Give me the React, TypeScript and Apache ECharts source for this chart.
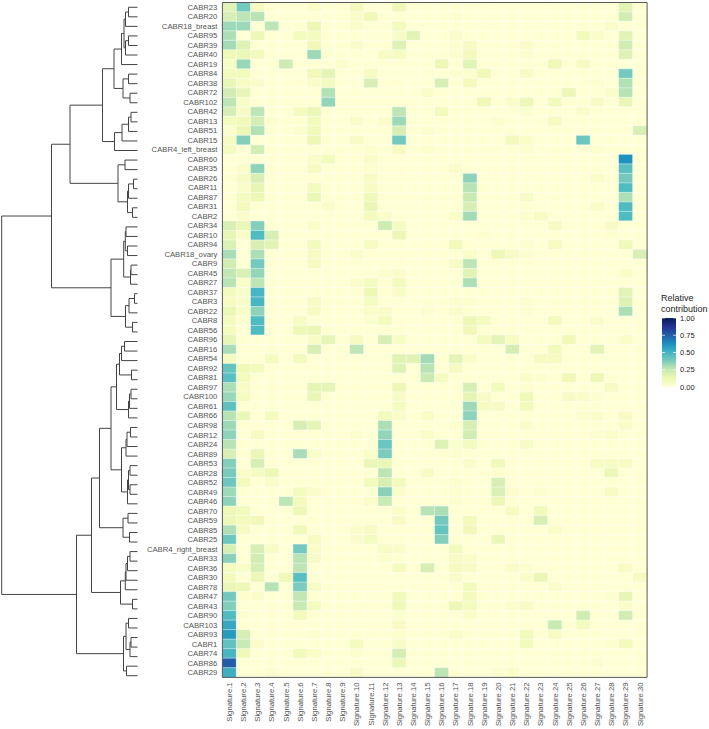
import React, { useEffect, useRef } from "react";
import * as echarts from "echarts";

type Cell = [number, number];

const samples = ["CABR23","CABR20","CABR18_breast","CABR95","CABR39","CABR40","CABR19","CABR84","CABR38","CABR72","CABR102","CABR42","CABR13","CABR51","CABR15","CABR4_left_breast","CABR60","CABR35","CABR26","CABR11","CABR87","CABR31","CABR2","CABR34","CABR10","CABR94","CABR18_ovary","CABR9","CABR45","CABR27","CABR37","CABR3","CABR22","CABR8","CABR56","CABR96","CABR16","CABR54","CABR92","CABR81","CABR97","CABR100","CABR61","CABR66","CABR98","CABR12","CABR24","CABR89","CABR53","CABR28","CABR52","CABR49","CABR46","CABR70","CABR59","CABR85","CABR25","CABR4_right_breast","CABR33","CABR36","CABR30","CABR78","CABR47","CABR43","CABR90","CABR103","CABR93","CABR1","CABR74","CABR86","CABR29"];
const signatures = Array.from({ length: 30 }, (_, i) => `Signature.${i + 1}`);
const palette = ["#FFFFD4","#EFF9B6","#C7E9B4","#86D0BA","#50BCC2","#1D91C0","#225EA8","#253494","#081D58"];
const legendPalette = ["#FFFFD9","#EDF8B1","#C7E9B4","#7FCDBB","#41B6C4","#1D91C0","#225EA8","#253494","#081D58"];
const legendTicks = [0, 0.25, 0.5, 0.75, 1];

// Each row: sparse [signature number, relative contribution]; every other cell is ~0.
const r1: Cell[] = [[1,.17],[2,.42],[3,.08],[7,.05],[10,.1],[13,.12],[29,.17]];
const r2: Cell[] = [[1,.2],[2,.27],[3,.28],[10,.05],[11,.12],[17,.02],[29,.22]];
const r3: Cell[] = [[1,.33],[2,.33],[4,.27],[7,.13],[10,.04],[13,.1],[28,.04]];
const r4: Cell[] = [[1,.3],[3,.13],[6,.09],[7,.09],[13,.06],[14,.17],[17,.04],[26,.1],[27,.05],[29,.17]];
const r5: Cell[] = [[1,.32],[2,.18],[7,.12],[10,.04],[13,.18],[17,.02],[18,.07],[22,.04],[29,.22]];
const r6: Cell[] = [[1,.12],[2,.14],[3,.1],[7,.33],[12,.07],[13,.08],[17,.02],[18,.1],[22,.02],[29,.18]];
const r7: Cell[] = [[1,.07],[2,.34],[5,.23],[9,.03],[16,.13],[18,.17],[24,.12],[26,.08]];
const r8: Cell[] = [[1,.1],[2,.1],[7,.11],[8,.16],[11,.08],[17,.02],[18,.03],[19,.12],[22,.06],[29,.42]];
const r9: Cell[] = [[1,.14],[2,.07],[3,.04],[7,.04],[8,.09],[11,.2],[16,.2],[18,.1],[27,.02],[29,.29]];
const r10: Cell[] = [[1,.22],[2,.15],[8,.29],[15,.05],[25,.13],[28,.04],[29,.28]];
const r11: Cell[] = [[1,.27],[2,.06],[8,.35],[19,.12],[21,.04],[22,.13],[24,.1],[27,.06],[29,.14]];
const r12: Cell[] = [[1,.21],[2,.06],[3,.27],[6,.09],[7,.14],[13,.27],[16,.1],[22,.03],[26,.04]];
const r13: Cell[] = [[1,.09],[2,.11],[3,.21],[4,.03],[7,.1],[10,.05],[12,.04],[13,.33],[20,.03],[24,.08]];
const r14: Cell[] = [[1,.03],[2,.13],[3,.29],[6,.03],[7,.11],[13,.2],[15,.02],[30,.2]];
const r15: Cell[] = [[1,.08],[2,.38],[7,.13],[10,.07],[13,.42],[21,.1],[22,.05],[26,.44]];
const r16: Cell[] = [[1,.09],[3,.22],[11,.03],[13,.08],[15,.03],[22,.02],[27,.03]];
const r17: Cell[] = [[7,.05],[8,.1],[11,.04],[29,.62]];
const r18: Cell[] = [[2,.04],[3,.36],[7,.08],[11,.03],[17,.04],[29,.48]];
const r19: Cell[] = [[2,.06],[3,.2],[11,.07],[18,.36],[27,.05],[29,.42]];
const r20: Cell[] = [[2,.05],[3,.15],[7,.09],[11,.07],[18,.28],[29,.5]];
const r21: Cell[] = [[2,.09],[3,.13],[7,.14],[11,.12],[18,.24],[22,.06],[29,.3]];
const r22: Cell[] = [[2,.1],[8,.04],[11,.14],[18,.2],[27,.05],[29,.5]];
const r23: Cell[] = [[2,.04],[11,.09],[12,.04],[17,.05],[18,.32],[22,.03],[23,.07],[29,.5]];
const r24: Cell[] = [[1,.2],[2,.14],[3,.38],[7,.05],[12,.23],[13,.08],[24,.07],[28,.06]];
const r25: Cell[] = [[1,.15],[2,.05],[3,.5],[4,.2],[13,.13],[19,.03],[28,.02]];
const r26: Cell[] = [[1,.19],[3,.2],[4,.17],[7,.1],[11,.08],[17,.11],[22,.03],[24,.08],[29,.12]];
const r27: Cell[] = [[1,.31],[3,.3],[7,.08],[10,.04],[18,.05],[20,.13],[21,.06],[22,.02],[30,.2]];
const r28: Cell[] = [[1,.22],[3,.42],[7,.08],[17,.07],[18,.27],[27,.01]];
const r29: Cell[] = [[1,.26],[2,.19],[3,.35],[12,.03],[13,.04],[18,.17],[29,.05]];
const r30: Cell[] = [[1,.28],[2,.05],[3,.27],[10,.04],[11,.09],[13,.1],[18,.3]];
const r31: Cell[] = [[1,.1],[2,.05],[3,.52],[11,.13],[13,.07],[29,.17]];
const r32: Cell[] = [[1,.08],[2,.05],[3,.52],[7,.06],[11,.08],[17,.03],[18,.03],[22,.02],[29,.18]];
const r33: Cell[] = [[1,.14],[2,.05],[3,.36],[7,.07],[11,.05],[12,.04],[15,.02],[17,.05],[18,.01],[22,.02],[29,.3]];
const r34: Cell[] = [[1,.09],[2,.02],[3,.5],[6,.07],[11,.03],[12,.09],[18,.13],[19,.09],[24,.1],[27,.04]];
const r35: Cell[] = [[1,.09],[3,.5],[6,.13],[7,.14],[18,.12]];
const r36: Cell[] = [[1,.15],[7,.06],[8,.15],[10,.08],[12,.2],[13,.07],[19,.09],[20,.16],[21,.07],[25,.12],[29,.05]];
const r37: Cell[] = [[1,.31],[7,.2],[10,.27],[21,.21],[24,.1],[27,.17]];
const r38: Cell[] = [[1,.08],[4,.09],[6,.1],[13,.17],[14,.17],[15,.32],[17,.16],[18,.05],[23,.08],[24,.08]];
const r39: Cell[] = [[1,.45],[2,.12],[3,.1],[13,.18],[15,.28],[17,.08]];
const r40: Cell[] = [[1,.48],[2,.1],[15,.24],[16,.08],[22,.05],[23,.03],[25,.12],[27,.13]];
const r41: Cell[] = [[1,.3],[2,.07],[7,.16],[8,.16],[13,.13],[18,.2],[20,.1],[22,.03],[28,.08]];
const r42: Cell[] = [[1,.34],[2,.09],[7,.14],[13,.06],[18,.16],[19,.06],[22,.12],[25,.06],[26,.05],[27,.02]];
const r43: Cell[] = [[1,.47],[13,.09],[18,.33],[19,.08],[20,.06],[22,.1]];
const r44: Cell[] = [[1,.28],[2,.14],[4,.09],[12,.1],[13,.04],[15,.05],[18,.36],[26,.03],[27,.04],[29,.06]];
const r45: Cell[] = [[1,.33],[6,.2],[7,.16],[12,.3],[17,.03],[18,.2],[22,.04],[29,.05]];
const r46: Cell[] = [[1,.36],[3,.08],[10,.03],[12,.35],[15,.05],[18,.22],[25,.01],[26,.01],[27,.02],[28,.05]];
const r47: Cell[] = [[1,.28],[12,.44],[16,.18],[17,.03],[18,.09],[22,.06]];
const r48: Cell[] = [[1,.2],[3,.14],[6,.31],[7,.05],[11,.05],[12,.4],[17,.03]];
const r49: Cell[] = [[1,.38],[3,.2],[11,.14],[12,.14],[18,.05],[20,.11],[27,.07],[28,.07],[29,.07]];
const r50: Cell[] = [[1,.41],[2,.04],[3,.08],[4,.13],[12,.27],[15,.07],[20,.02],[28,.13]];
const r51: Cell[] = [[1,.43],[2,.1],[4,.04],[11,.1],[12,.2],[13,.1],[17,.03],[18,.01],[20,.2]];
const r52: Cell[] = [[1,.33],[6,.09],[7,.05],[12,.37],[13,.05],[17,.02],[20,.19],[21,.04],[23,.03],[28,.07]];
const r53: Cell[] = [[1,.36],[5,.27],[6,.1],[11,.04],[12,.24],[17,.03],[20,.13]];
const r54: Cell[] = [[1,.13],[2,.1],[6,.13],[13,.05],[15,.28],[16,.3],[21,.08],[23,.11]];
const r55: Cell[] = [[1,.13],[2,.1],[3,.12],[13,.06],[16,.42],[18,.1],[23,.2]];
const r56: Cell[] = [[1,.3],[2,.08],[6,.12],[10,.04],[11,.06],[16,.45],[18,.12],[24,.05]];
const r57: Cell[] = [[1,.44],[7,.08],[10,.04],[11,.09],[16,.38],[20,.14]];
const r58: Cell[] = [[1,.2],[3,.2],[4,.07],[6,.42],[7,.05],[12,.07],[13,.04],[17,.1]];
const r59: Cell[] = [[1,.37],[3,.22],[6,.28],[7,.06],[12,.03],[17,.07],[18,.05]];
const r60: Cell[] = [[1,.09],[2,.05],[3,.2],[6,.27],[13,.09],[15,.2],[17,.08],[18,.06],[21,.04],[22,.03],[29,.07]];
const r61: Cell[] = [[1,.1],[3,.13],[5,.12],[6,.48],[17,.04],[22,.05],[23,.14],[30,.08]];
const r62: Cell[] = [[1,.14],[2,.13],[4,.28],[6,.4],[7,.06],[18,.1],[24,.04]];
const r63: Cell[] = [[1,.42],[2,.03],[3,.04],[6,.26],[13,.11],[18,.1],[28,.03],[29,.15]];
const r64: Cell[] = [[1,.39],[6,.25],[7,.09],[13,.12],[17,.13],[18,.09],[21,.03],[22,.06],[29,.04]];
const r65: Cell[] = [[1,.5],[2,.02],[6,.1],[13,.03],[18,.05],[26,.22],[29,.22]];
const r66: Cell[] = [[1,.56],[13,.07],[24,.24],[26,.09]];
const r67: Cell[] = [[1,.6],[2,.2],[7,.02],[13,.03],[17,.05],[22,.1],[24,.07]];
const r68: Cell[] = [[1,.46],[2,.24],[3,.04],[10,.09],[13,.06],[22,.1],[28,.03],[29,.1]];
const r69: Cell[] = [[1,.52],[2,.12],[6,.1],[7,.05],[10,.03],[13,.21]];
const r70: Cell[] = [[1,.75],[13,.14],[27,.02]];
const r71: Cell[] = [[1,.54],[4,.03],[10,.06],[16,.27],[17,.01],[20,.02],[21,.05]];
const rowCells = [r1,r2,r3,r4,r5,r6,r7,r8,r9,r10,r11,r12,r13,r14,r15,r16,r17,r18,r19,r20,r21,r22,r23,r24,r25,r26,r27,r28,r29,r30,r31,r32,r33,r34,r35,r36,r37,r38,r39,r40,r41,r42,r43,r44,r45,r46,r47,r48,r49,r50,r51,r52,r53,r54,r55,r56,r57,r58,r59,r60,r61,r62,r63,r64,r65,r66,r67,r68,r69,r70,r71];

// Dendrogram merges: [node, height, left child, right child]. Numbers as children are row numbers (1-based).
type Merge = [string, number, string | number, string | number];
const merges: Merge[] = [
  ["a1",9,1,2],["a2",12,"a1",3],["a3",9,4,5],["a4",12,"a3",6],["a5",13.5,"a2","a4"],["a6",16,"a5",7],
  ["a7",9,8,9],["a8",7.5,10,11],["a9",14.5,"a7","a8"],["F",23.5,"a6","a9"],
  ["b1",6.5,12,13],["b2",9,"b1",14],["b3",15.5,"b2",15],["G",23,"b3",16],["D",35,"F","G"],
  ["c1",12.5,17,18],["c2",4,19,20],["c3",9,"c2",21],["c4",5,22,23],["c5",10,"c3","c4"],["E",19.5,"c1","c5"],["B",67.5,"D","E"],
  ["d1",11.5,24,25],["d2",10,26,27],["d3",12.2,"d1","d2"],["d4",6.5,28,29],["d5",7,"d4",30],["C1",13.8,"d3","d5"],
  ["e1",3,31,32],["e2",8.5,"e1",33],["e3",5,34,35],["C2",12,"e2","e3"],["C",26.5,"C1","C2"],["A",86,"B","C"],
  ["f1",13,36,37],["f2",16,"f1",38],["f3",6,39,40],["S",18,"f2","f3"],
  ["f4",6.5,41,42],["f5",8,"f4",43],["T",9,"f5",44],["Q",21,"S","T"],
  ["g1",7,45,46],["g2",10.5,"g1",47],["g3",11.5,"g2",48],["g4",7.5,49,50],["g5",7.5,51,52],["g6",9,"g4","g5"],["g7",10,"g6",53],["R",16,"g3","g7"],
  ["O",26.5,"Q","R"],
  ["h1",9.5,54,55],["h2",8,56,57],["P",14.5,"h1","h2"],["M",38,"O","P"],
  ["i1",7.5,58,59],["i2",10,"i1",60],["i3",11.5,"i2",61],["i4",12.2,"i3",62],["i5",5,63,64],["N",17,"i4","i5"],["K",46,"M","N"],
  ["j1",9,65,66],["j2",6.5,67,68],["j3",7.5,"j2",69],["j4",11.5,"j1","j3"],["j5",11,70,71],["L",14,"j4","j5"],["J",61,"K","L"],
  ["root",135.8,"A","J"],
];

const TEXT = "#555555";
const LINE = "#444444";
const FONT = "'Liberation Sans', Arial, sans-serif";
const plot = { left: 222.4, top: 2.5, width: 424.7, height: 678 };
const bar = { x: 662, top: 318, bottom: 387, w: 14 };

function dendroData() {
  const pos: Record<string, [number, number]> = {};
  const at = (c: string | number): [number, number] =>
    typeof c === "number" ? [c - 1, 0] : pos[c];
  return merges.map(([name, h, a, b]) => {
    const [ya, ha] = at(a);
    const [yb, hb] = at(b);
    pos[name] = [(ya + yb) / 2, h];
    return [h, ya, ha, yb, hb];
  });
}

function heatData() {
  const out: number[][] = [];
  rowCells.forEach((cells, row) => {
    const m = new Map(cells);
    signatures.forEach((_, col) => out.push([col, row, m.get(col + 1) ?? 0]));
  });
  return out;
}

export default function App() {
  const ref = useRef<HTMLDivElement>(null);
  useEffect(() => {
    const chart = echarts.init(ref.current!, undefined, { renderer: "svg" });
    const tickY = (v: number) => bar.bottom - (bar.bottom - bar.top) * v;
    chart.setOption({
      animation: false,
      backgroundColor: "#ffffff",
      grid: [
        { ...plot, z: 10, show: true, borderColor: "#5a5a5a", borderWidth: 1, backgroundColor: "transparent" },
        { left: 0, top: plot.top, width: 137.5, height: plot.height },
      ],
      xAxis: [
        {
          type: "category", gridIndex: 0, data: signatures, position: "bottom",
          axisLine: { show: false },
          axisTick: { length: 3, lineStyle: { color: "#555", width: 1 } },
          splitLine: { show: false },
          axisLabel: { rotate: 90, interval: 0, fontSize: 7.7, color: TEXT, fontFamily: FONT, margin: 5 },
        },
        { type: "value", gridIndex: 1, inverse: true, min: 0, max: 137.5, show: false },
      ],
      yAxis: [
        {
          type: "category", gridIndex: 0, data: samples, inverse: true,
          axisLine: { show: false },
          axisTick: { length: 3, lineStyle: { color: "#555", width: 1 } },
          splitLine: { show: false },
          axisLabel: { interval: 0, fontSize: 7.7, color: TEXT, fontFamily: FONT, margin: 5 },
        },
        { type: "value", gridIndex: 1, inverse: true, min: -0.5, max: 70.5, show: false },
      ],
      visualMap: {
        show: false, type: "continuous", min: 0, max: 1, dimension: 2, seriesIndex: 0,
        inRange: { color: palette },
      },
      series: [
        {
          type: "heatmap", xAxisIndex: 0, yAxisIndex: 0, data: heatData(), progressive: 0,
          itemStyle: { borderColor: "rgba(255,255,255,0.7)", borderWidth: 0.6 },
          emphasis: { disabled: true }, label: { show: false },
        },
        {
          type: "custom", xAxisIndex: 1, yAxisIndex: 1, data: dendroData(), silent: true,
          encode: { x: 0, y: 1 }, clip: false,
          renderItem: (_: any, api: any) => {
            const h = api.value(0), ya = api.value(1), ha = api.value(2), yb = api.value(3), hb = api.value(4);
            return {
              type: "polyline",
              shape: { points: [api.coord([ha, ya]), api.coord([h, ya]), api.coord([h, yb]), api.coord([hb, yb])] },
              style: { stroke: LINE, lineWidth: 1, fill: "none" },
            };
          },
        },
      ],
      graphic: [
        { type: "text", x: 661, y: 293, style: { text: "Relative", fontSize: 9, fill: "#222", fontFamily: FONT } },
        { type: "text", x: 661, y: 304, style: { text: "contribution", fontSize: 9, fill: "#222", fontFamily: FONT } },
        {
          type: "rect",
          shape: { x: bar.x, y: bar.top, width: bar.w, height: bar.bottom - bar.top },
          style: {
            fill: new echarts.graphic.LinearGradient(0, 1, 0, 0, legendPalette.map((color, i) => ({ offset: i / (legendPalette.length - 1), color }))),
          },
        },
        ...legendTicks.flatMap((v) => [
          { type: "line", shape: { x1: bar.x, x2: bar.x + 3, y1: tickY(v), y2: tickY(v) }, style: { stroke: "#fff", lineWidth: 0.7 } },
          { type: "line", shape: { x1: bar.x + bar.w - 3, x2: bar.x + bar.w, y1: tickY(v), y2: tickY(v) }, style: { stroke: "#fff", lineWidth: 0.7 } },
          { type: "text", x: 680, y: tickY(v) - 4, style: { text: v.toFixed(2), fontSize: 7.5, fill: "#222", fontFamily: FONT } },
        ]),
      ],
    });
    return () => chart.dispose();
  }, []);
  return <div ref={ref} style={{ position: "absolute", left: 0, top: 0, width: 709, height: 729 }} />;
}
